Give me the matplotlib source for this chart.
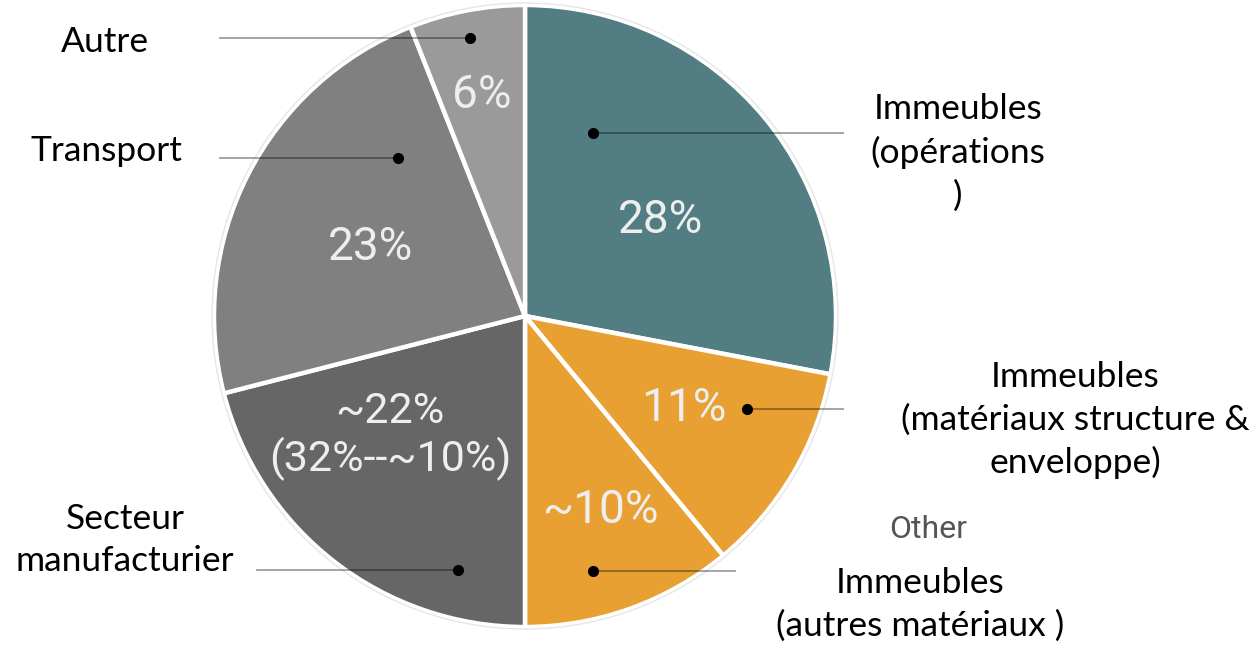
import numpy as np
import matplotlib.pyplot as plt

# slice data, clockwise from 12 o'clock
shares = [28, 11, 11, 21, 23, 6]
pct_labels = ["28%", "11%", "~10%", "~22%\n(32%--~10%)", "23%", "6%"]
colors = ["#527e83", "#e8a032", "#e8a032", "#666666", "#808080", "#9a9a9a"]

# category labels
names = ["Immeubles\n(opérations\n)",
         "Immeubles\n(matériaux structure &\nenveloppe)",
         "Immeubles\n(autres matériaux )",
         "Secteur\nmanufacturier",
         "Transport",
         "Autre"]

W, H = 1257, 645
fig = plt.figure(figsize=(W / 100, H / 100), dpi=100)
ax = fig.add_axes([0, 0, 1, 1])

def Y(y):
    return H - y

cx, cy, r = 525, Y(316), 311
wedges, _ = ax.pie(shares, colors=colors, startangle=90, counterclock=False,
                   center=(cx, cy), radius=r, frame=True,
                   wedgeprops=dict(edgecolor='white', linewidth=3.2))
ax.set_xlim(0, W)
ax.set_ylim(0, H)
ax.set_aspect('equal')
ax.axis('off')
ax.add_patch(plt.Circle((cx, cy), r + 2, fill=False, ec='#e6e6e6', lw=1))

# percentage text inside slices
pct_font = dict(family='Roboto', fontweight='normal', fontstretch='condensed')
pct_pos = [(661, 220), (684, 408), (600, 510), (390, 436), (370, 247), (482, 95)]
pct_size = [33, 33, 33, 31, 33, 33]
for (x, y), t, fs in zip(pct_pos, pct_labels, pct_size):
    ax.text(x, Y(y), t, ha='center', va='center', color='#eeeeee',
            fontsize=fs, linespacing=1.15, **pct_font)

# leader lines: (dot x, dot y, line end x)
leaders = [(593, 133, 843), (747, 409, 843), (593, 571, 735),
           (458, 570, 257), (398, 158, 220), (470, 38, 220)]
for dx, dy, ex in leaders:
    ax.plot([dx, ex], [Y(dy), Y(dy)], color='black', alpha=0.35, lw=1.4)
    ax.plot(dx, Y(dy), 'o', color='black', ms=7)

name_pos = [(958, 152), (1075, 420), (920, 604), (125, 540), (106, 151), (105, 42)]
for (x, y), t in zip(name_pos, names):
    ax.text(x, Y(y), t, ha='center', va='center', color='black',
            fontsize=25.5, family='Lato', linespacing=1.4)

ax.text(928, Y(530), "Other", ha='center', va='center', color='#555555',
        fontsize=23, **pct_font)

fig.savefig("out.png", dpi=100)
